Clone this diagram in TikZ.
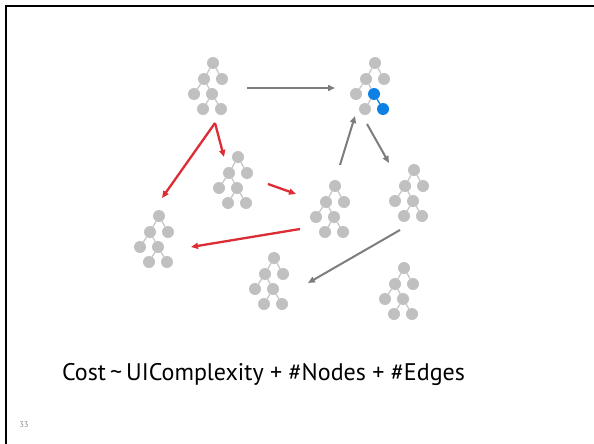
\documentclass[tikz,border=0pt]{standalone}
\usepackage{fontspec}
\setmainfont{PT Sans}
\usetikzlibrary{arrows.meta}
\definecolor{leafgray}{RGB}{192,192,192}
\definecolor{twiggray}{RGB}{200,200,200}
\definecolor{edgegray}{RGB}{125,125,125}
\definecolor{flowred}{RGB}{221,44,52}
\definecolor{pickblue}{RGB}{12,128,228}
\definecolor{pagenum}{RGB}{130,130,130}

\tikzset{
  leaf/.style={circle, fill=#1, minimum size=12pt, inner sep=0pt, outer sep=0pt},
  leaf/.default=leafgray,
  twig/.style={draw=#1, line width=1.3pt},
  twig/.default=twiggray,
  graymove/.style={draw=edgegray, line width=2pt,
    -{Triangle[length=7pt,width=6pt]}},
  redmove/.style={draw=flowred, line width=2.3pt,
    -{Triangle[length=7pt,width=6pt]}},
}

% a seven-leaf tree: root r, children a b, a's children c d, d's children e f
% #1 name, #2 x, #3 y, #4 colour of d and f, #5 colour of the d--f twig
\newcommand{\smalltree}[5]{%
  \begin{scope}[shift={(#2,#3)}]
    \node[leaf]     (#1-r) at (0,0)   {};
    \node[leaf]     (#1-a) at (-9,16) {};
    \node[leaf]     (#1-b) at (9,16)  {};
    \node[leaf]     (#1-c) at (-19,31) {};
    \node[leaf=#4]  (#1-d) at (-1,31) {};
    \node[leaf]     (#1-e) at (-10,46) {};
    \node[leaf=#4]  (#1-f) at (8,46)  {};
    \draw[twig] (#1-r) -- (#1-a);
    \draw[twig] (#1-r) -- (#1-b);
    \draw[twig] (#1-a) -- (#1-c);
    \draw[twig] (#1-a) -- (#1-d);
    \draw[twig] (#1-d) -- (#1-e);
    \draw[twig=#5] (#1-d) -- (#1-f);
  \end{scope}}

\begin{document}
\begin{tikzpicture}[x=1pt, y=-1pt]
  \useasboundingbox (0,0) rectangle (594,444);
  \fill[white] (0,0) rectangle (594,444);

  % slide frame
  \draw[black, line width=2.4pt] (6,444) -- (6,6) -- (594,6);

  % the trees
  \smalltree{tA}{213}{63}{leafgray}{twiggray}
  \smalltree{tB}{375}{63}{pickblue}{pickblue}
  \smalltree{tC}{238}{157}{leafgray}{twiggray}
  \smalltree{tD}{159}{216}{leafgray}{twiggray}
  \smalltree{tE}{335}{186}{leafgray}{twiggray}
  \smalltree{tF}{414}{170}{leafgray}{twiggray}
  \smalltree{tG}{274}{258}{leafgray}{twiggray}
  \smalltree{tH}{404}{268}{leafgray}{twiggray}

  % arrow ends
  \coordinate (g1s) at (247,88);  \coordinate (g1e) at (335,88);
  \coordinate (g2s) at (340,165); \coordinate (g2e) at (355,116);
  \coordinate (g3s) at (367,124); \coordinate (g3e) at (389,163);
  \coordinate (g4s) at (400,230); \coordinate (g4e) at (308,283);
  \coordinate (rsplit) at (215,123);
  \coordinate (r1e) at (162,198);
  \coordinate (r2e) at (224,157);
  \coordinate (r3s) at (268,184); \coordinate (r3e) at (296,194);
  \coordinate (r4s) at (300,229); \coordinate (r4e) at (191,247);

  % gray moves
  \draw[graymove] (g1s) -- (g1e);
  \draw[graymove] (g2s) -- (g2e);
  \draw[graymove] (g3s) -- (g3e);
  \draw[graymove] (g4s) -- (g4e);

  % red moves
  \draw[redmove] (rsplit) -- (r1e);
  \draw[redmove] (rsplit) -- (r2e);
  \draw[redmove] (r3s) -- (r3e);
  \draw[redmove] (r4s) -- (r4e);

  % cost formula
  \node[anchor=base, font=\fontsize{24}{28}\selectfont, inner sep=0pt] (cost)
    at (263.5,380) {Cost\,\textasciitilde\,UIComplexity + \#Nodes + \#Edges};

  % page number
  \node[anchor=base west, font=\fontsize{8}{9}\selectfont, text=pagenum, inner sep=0pt]
    (pgno) at (19.5,427) {33};
\end{tikzpicture}
\end{document}
